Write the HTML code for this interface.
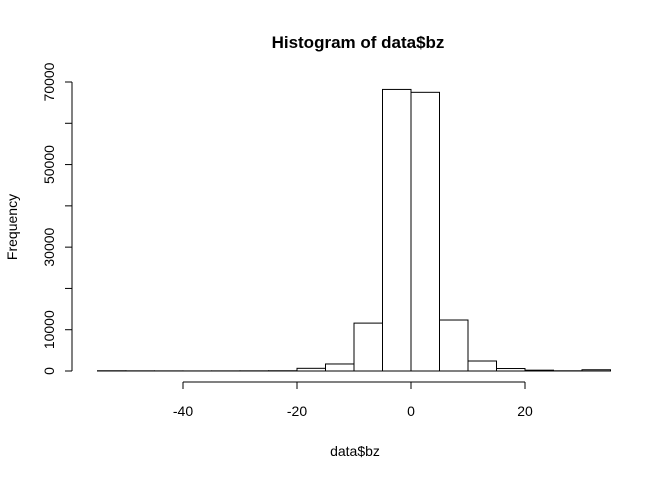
<!DOCTYPE html>
<html><head><meta charset="utf-8"><style>body{margin:0;background:#fff}svg{display:block;font-family:"Liberation Sans",sans-serif}</style></head>
<body>
<svg id="c" width="672" height="480">
<text x="358" y="48" text-anchor="middle" font-weight="bold" font-size="17">Histogram of data$bz</text>
<text x="355" y="456" text-anchor="middle" font-size="14">data$bz</text>
<text transform="translate(17,227) rotate(-90)" text-anchor="middle" font-size="14">Frequency</text>
<g id="bars"></g><g id="xa"></g><g id="ya"></g>
</svg>
<script>
const binStarts=[-55,-50,-45,-40,-35,-30,-25,-20,-15,-10,-5,0,5,10,15,20,25,30];
const counts=[60,40,30,20,30,40,60,650,1700,11600,68200,67500,12350,2420,600,200,50,300];
const xTicks=[-40,-20,0,20];
const yTicks=[0,10000,20000,30000,40000,50000,60000,70000];
const yLabels=["0","10000","","30000","","50000","","70000"];
const binW=5;
const X=v=>411+v*5.7, Y=v=>371-v*289/70000;
const ns="http://www.w3.org/2000/svg";
function mk(t,a,p){const e=document.createElementNS(ns,t);for(const k in a)e.setAttribute(k,a[k]);p.appendChild(e);return e;}
const bars=document.getElementById('bars');
binStarts.forEach((s,i)=>{const r=mk('rect',{x:X(s),y:Y(counts[i]),width:X(s+binW)-X(s),height:Y(0)-Y(counts[i]),fill:'none',stroke:'#000','stroke-width':1},bars);

});
const xa=document.getElementById('xa');
mk('line',{x1:X(xTicks[0]),x2:X(xTicks[xTicks.length-1]),y1:382,y2:382,stroke:'#000'},xa);
xTicks.forEach(t=>{mk('line',{x1:X(t),x2:X(t),y1:382,y2:389,stroke:'#000'},xa);
const tx=mk('text',{x:X(t),y:416,'text-anchor':'middle','font-size':14},xa);tx.textContent=t;

});
const ya=document.getElementById('ya');
mk('line',{x1:72,x2:72,y1:Y(yTicks[0]),y2:Y(yTicks[yTicks.length-1]),stroke:'#000'},ya);
yTicks.forEach((t,i)=>{mk('line',{x1:65,x2:72,y1:Y(t),y2:Y(t),stroke:'#000'},ya);
if(yLabels[i]){const tx=mk('text',{transform:`translate(54,${Y(t)}) rotate(-90)`,'text-anchor':'middle','font-size':14},ya);tx.textContent=yLabels[i];

}});
</script>
</body></html>
